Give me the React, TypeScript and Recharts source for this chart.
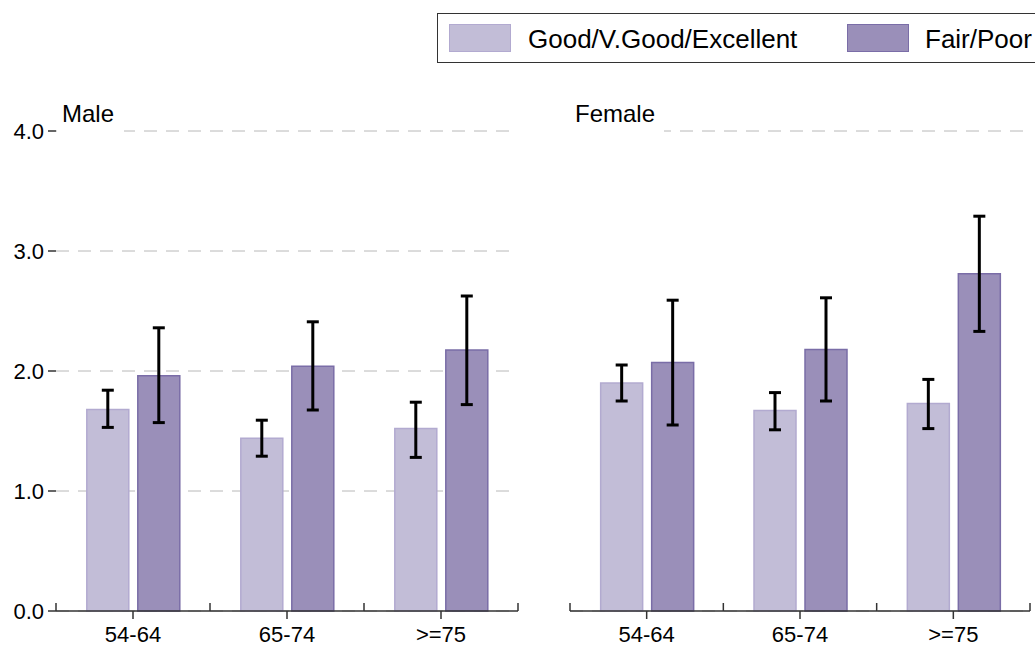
import { BarChart, Bar, XAxis, YAxis, CartesianGrid, ErrorBar } from "recharts";

const ageGroups = ["54-64", "65-74", ">=75"];
const seriesNames = ["Good/V.Good/Excellent", "Fair/Poor"];
const yTicks = [0, 1, 2, 3, 4];

const maleGood = [1.68, 1.44, 1.52];
const maleGoodLo = [1.53, 1.29, 1.28];
const maleGoodHi = [1.84, 1.59, 1.74];
const maleFair = [1.96, 2.04, 2.175];
const maleFairLo = [1.57, 1.675, 1.72];
const maleFairHi = [2.36, 2.41, 2.625];

const femaleGood = [1.9, 1.67, 1.73];
const femaleGoodLo = [1.75, 1.51, 1.52];
const femaleGoodHi = [2.05, 1.82, 1.93];
const femaleFair = [2.07, 2.18, 2.81];
const femaleFairLo = [1.55, 1.75, 2.33];
const femaleFairHi = [2.59, 2.61, 3.29];

const LIGHT = "#c2bdd7";
const LIGHT_EDGE = "#b2aad0";
const DARK = "#9a8fb9";
const DARK_EDGE = "#7a6da7";
const AXIS = "#333";
const FONT = "'Liberation Sans', Arial, sans-serif";
const TICK_SIZE = 8;
const TICK_MARGIN = 7;

function buildRows(good: number[], goodLo: number[], goodHi: number[], fair: number[], fairLo: number[], fairHi: number[]) {
  return ageGroups.map((age, i) => ({
    age,
    good: good[i],
    goodErr: [good[i] - goodLo[i], goodHi[i] - good[i]],
    fair: fair[i],
    fairErr: [fair[i] - fairLo[i], fairHi[i] - fair[i]],
  }));
}

const maleRows = buildRows(maleGood, maleGoodLo, maleGoodHi, maleFair, maleFairLo, maleFairHi);
const femaleRows = buildRows(femaleGood, femaleGoodLo, femaleGoodHi, femaleFair, femaleFairLo, femaleFairHi);

// category label plus the upward boundary ticks between groups
function AgeTick(props: any) {
  const { x, y, payload, index, visibleTicksCount } = props;
  const half = payload?.offset ?? 0;
  const axisY = y - TICK_SIZE - TICK_MARGIN;
  return (
    <g>
      {half > 0 && (
        <line x1={x - half} x2={x - half} y1={axisY - TICK_SIZE} y2={axisY} stroke={AXIS} strokeWidth={1.5} />
      )}
      {half > 0 && index === visibleTicksCount - 1 && (
        <line x1={x + half} x2={x + half} y1={axisY - TICK_SIZE} y2={axisY} stroke={AXIS} strokeWidth={1.5} />
      )}
      <text x={x} y={y} dy="0.71em" textAnchor="middle" fontSize={22} fill="#000" fontFamily={FONT}>
        {payload.value}
      </text>
    </g>
  );
}

function Panel({ rows, showY, width, margin }: { rows: any[]; showY: boolean; width: number; margin: any }) {
  return (
    <BarChart width={width} height={670} data={rows} margin={margin} barCategoryGap="20%" barGap={9}>
      <CartesianGrid vertical={false} stroke="#b8b8b8" strokeDasharray="13 9" />
      <XAxis
        dataKey="age"
        height={59}
        axisLine={{ stroke: AXIS, strokeWidth: 1.5 }}
        tickLine={{ stroke: AXIS, strokeWidth: 1.5 }}
        tickSize={TICK_SIZE}
        tickMargin={TICK_MARGIN}
        tick={(p: any) => <AgeTick {...p} />}
        interval={0}
      />
      <YAxis
        domain={[0, 4]}
        ticks={yTicks}
        width={showY ? 56 : 0}
        axisLine={false}
        tickLine={showY ? { stroke: AXIS, strokeWidth: 1.5 } : false}
        tick={showY ? { fontSize: 22, fill: "#000", fontFamily: FONT } : false}
        tickSize={TICK_SIZE}
        tickMargin={4}
        tickFormatter={(v: number) => v.toFixed(1)}
      />
      <Bar dataKey="good" name={seriesNames[0]} fill={LIGHT} stroke={LIGHT_EDGE} strokeWidth={1.5} isAnimationActive={false}>
        <ErrorBar dataKey="goodErr" width={6} stroke="#000" strokeWidth={3} />
      </Bar>
      <Bar dataKey="fair" name={seriesNames[1]} fill={DARK} stroke={DARK_EDGE} strokeWidth={1.5} isAnimationActive={false}>
        <ErrorBar dataKey="fairErr" width={6} stroke="#000" strokeWidth={3} />
      </Bar>
    </BarChart>
  );
}

const titleStyle: React.CSSProperties = {
  position: "absolute",
  top: 96,
  height: 36,
  lineHeight: "36px",
  fontSize: 24,
  background: "#fff",
  color: "#000",
  boxSizing: "border-box",
  paddingLeft: 5,
};

const swatch = (color: string, edge: string, left: number): React.CSSProperties => ({
  position: "absolute",
  left,
  top: 9.5,
  width: 62,
  height: 28,
  background: color,
  border: `1px solid ${edge}`,
  boxSizing: "border-box",
});

const legendText = (left: number): React.CSSProperties => ({
  position: "absolute",
  left,
  top: 9.5,
  lineHeight: "30px",
  whiteSpace: "nowrap",
});

export default function App() {
  return (
    <div style={{ position: "fixed", left: 0, top: 0, width: 1035, height: 646, overflow: "hidden", background: "#fff", fontFamily: FONT }}>
      <div style={{ position: "absolute", left: 0, top: 0 }}>
        <Panel rows={maleRows} showY={true} width={530} margin={{ top: 131, right: 12, bottom: 0, left: 0 }} />
      </div>
      <div style={{ position: "absolute", left: 560, top: 0 }}>
        <Panel rows={femaleRows} showY={false} width={475} margin={{ top: 131, right: 5, bottom: 0, left: 10 }} />
      </div>
      <div style={{ ...titleStyle, left: 57, width: 67 }}>Male</div>
      <div style={{ ...titleStyle, left: 570, width: 94 }}>Female</div>
      <div
        style={{
          position: "absolute",
          left: 437,
          top: 13,
          width: 640,
          height: 50,
          border: "1.5px solid #333",
          boxSizing: "border-box",
          fontSize: 26,
          color: "#000",
        }}
      >
        <div style={swatch(LIGHT, LIGHT_EDGE, 11)} />
        <div style={legendText(90)}>{seriesNames[0]}</div>
        <div style={swatch(DARK, DARK_EDGE, 409)} />
        <div style={legendText(487)}>{seriesNames[1]}</div>
      </div>
    </div>
  );
}
